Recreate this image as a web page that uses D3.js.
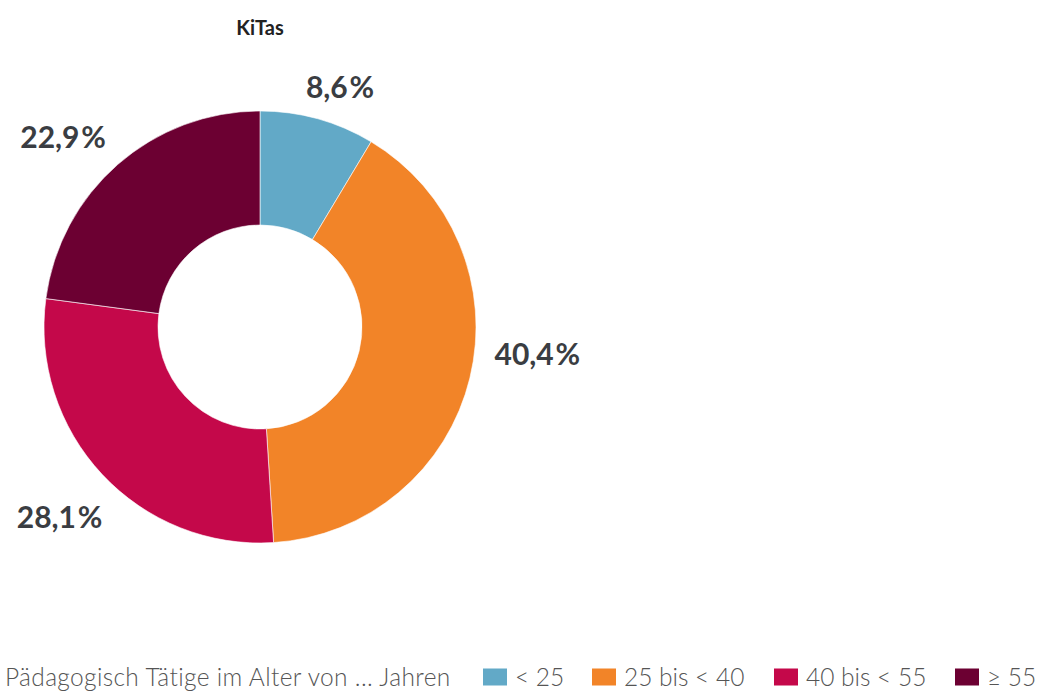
<!DOCTYPE html>
<html>
<head>
<meta charset="utf-8">
<script src="https://cdn.jsdelivr.net/npm/d3@7"></script>
<style>
  body { margin: 0; background: #fff; }
  svg { display: block; font-family: Lato, "Open Sans", sans-serif; }
</style>
</head>
<body>
<svg id="chart"></svg>
<script>
const categories = ["< 25", "25 bis < 40", "40 bis < 55", "≥ 55"];
const values = [8.6, 40.4, 28.1, 22.9];
const labels = ["8,6\u200A%", "40,4\u200A%", "28,1\u200A%", "22,9\u200A%"];
const colors = ["#62a9c7", "#f28428", "#c4084a", "#6c0032"];
const chartTitle = "KiTas";
const legendTitle = "Pädagogisch Tätige im Alter von ... Jahren";

const width = 1040, height = 692;
const cx = 260, cy = 327;
const outerR = 216, innerR = 102;

// kleine Verschiebungen der Prozent-Labels gegenüber dem Bogen-Schwerpunkt
const labelNudge = [[8, 21], [15, -36], [-3, 6], [-19, 14]];

const svg = d3.select("#chart").attr("width", width).attr("height", height);

svg.append("text")
  .attr("x", cx)
  .attr("y", 35)
  .attr("text-anchor", "middle")
  .attr("font-size", "20px")
  .attr("font-weight", "bold")
  .attr("fill", "#222")
  .text(chartTitle);

const color = d3.scaleOrdinal().domain(categories).range(colors);

const pie = d3.pie().sort(null).value((d) => d.value);
const data = categories.map((c, i) => ({ cat: c, value: values[i], label: labels[i] }));
const arcs = pie(data);

const arc = d3.arc().innerRadius(innerR).outerRadius(outerR);
const labelArc = d3.arc().innerRadius(270).outerRadius(270);

const g = svg.append("g").attr("transform", `translate(${cx},${cy})`);

g.selectAll("path")
  .data(arcs)
  .enter()
  .append("path")
  .attr("d", arc)
  .attr("fill", (d) => color(d.data.cat))
  .attr("stroke", "#fff")
  .attr("stroke-width", 0.6);

g.selectAll("text.lbl")
  .data(arcs)
  .enter()
  .append("text")
  .attr("class", "lbl")
  .attr("transform", (d, i) => {
    const [x, y] = labelArc.centroid(d);
    return `translate(${x + labelNudge[i][0]},${y + labelNudge[i][1]})`;
  })
  .attr("text-anchor", "middle")
  .attr("dy", "0.35em")
  .attr("font-size", "30px")
  .attr("font-weight", "bold")
  .attr("fill", "#3a3d42")
  .text((d) => d.data.label);

// Legende
const legend = svg.append("g").attr("transform", "translate(5,677)");
legend.append("text")
  .attr("x", 0)
  .attr("y", 0)
  .attr("dy", "0.35em")
  .attr("font-size", "24.5px")
  .attr("font-weight", 300)
  .attr("letter-spacing", "0.35px")
  .attr("fill", "#555")
  .text(legendTitle);

const legendX = [478, 587, 769, 950];
categories.forEach((c, i) => {
  const row = legend.append("g").attr("transform", `translate(${legendX[i]},0)`);
  row.append("rect")
    .attr("x", 0)
    .attr("y", -8.5)
    .attr("width", 24)
    .attr("height", 17)
    .attr("fill", color(c));
  row.append("text")
    .attr("x", 32)
    .attr("y", 0)
    .attr("dy", "0.35em")
    .attr("font-size", "24.5px")
    .attr("font-weight", 300)
    .attr("fill", "#555")
    .text(c);
});
</script>
</body>
</html>
